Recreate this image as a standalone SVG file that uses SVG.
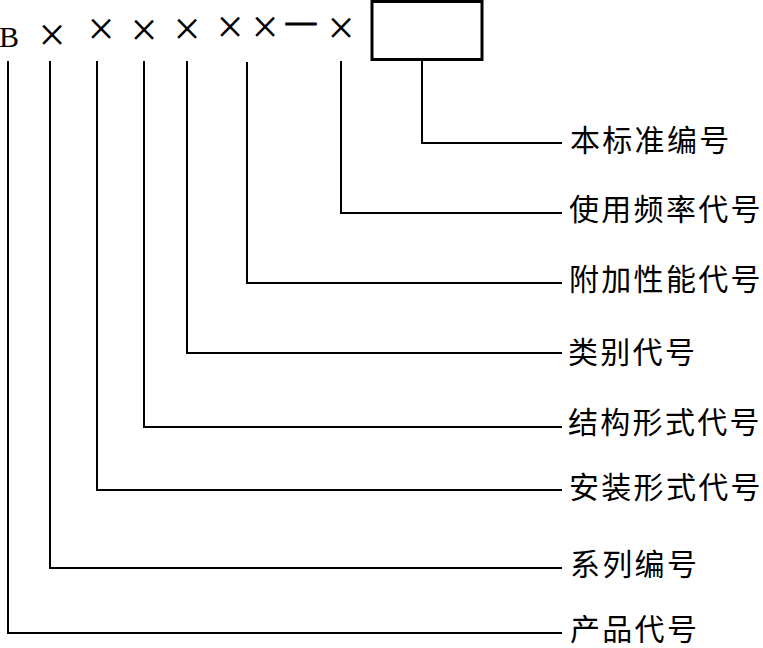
<svg xmlns="http://www.w3.org/2000/svg" width="763" height="648" viewBox="0 0 763 648">
<style>
.ln{fill:none;stroke:#000;stroke-width:2}
.lbl{font-family:"Noto Sans CJK SC","Noto Sans",sans-serif;font-size:30px;letter-spacing:2.3px;fill:#000}
.code{font-family:"Liberation Serif","DejaVu Serif",serif;fill:#000}
.x{font-size:48px}
</style>
<rect width="763" height="648" fill="#fff"/>
<g id="code">
<text class="code" x="-1" y="47" font-size="30">B</text>
<text class="code x" x="52" y="51" text-anchor="middle">×</text>
<text class="code x" x="101" y="45" text-anchor="middle">×</text>
<text class="code x" x="144" y="46" text-anchor="middle">×</text>
<text class="code x" x="187" y="45" text-anchor="middle">×</text>
<text class="code x" x="230" y="43" text-anchor="middle">×</text>
<text class="code x" x="265" y="43" text-anchor="middle">×</text>
<text class="code" x="301" y="31" font-size="30" font-weight="bold" stroke="#000" stroke-width="1" text-anchor="middle">—</text>
<text class="code x" x="341" y="44" text-anchor="middle">×</text>
</g>
<g id="box">
<rect x="372" y="1.5" width="110" height="58" fill="none" stroke="#000" stroke-width="3"/>
</g>
<g id="connectors">
<polyline class="ln" points="422,60 422,143 562,143"/>
<polyline class="ln" points="341,61 341,213 562,213"/>
<polyline class="ln" points="247,62 247,283 562,283"/>
<polyline class="ln" points="187,61 187,353 562,353"/>
<polyline class="ln" points="144,61 144,427 562,427"/>
<polyline class="ln" points="97,61 97,490 562,490"/>
<polyline class="ln" points="50,61 50,568 562,568"/>
<polyline class="ln" points="8,61 8,633 562,633"/>
</g>
<g id="n1"><text class="lbl" x="570" y="151">本标准编号</text></g>
<g id="n2"><text class="lbl" x="569" y="220">使用频率代号</text></g>
<g id="n3"><text class="lbl" x="569" y="290">附加性能代号</text></g>
<g id="n4"><text class="lbl" x="568" y="363">类别代号</text></g>
<g id="n5"><text class="lbl" x="568" y="433">结构形式代号</text></g>
<g id="n6"><text class="lbl" x="569" y="498">安装形式代号</text></g>
<g id="n7"><text class="lbl" x="570" y="575">系列编号</text></g>
<g id="n8"><text class="lbl" x="570" y="640">产品代号</text></g>
</svg>
